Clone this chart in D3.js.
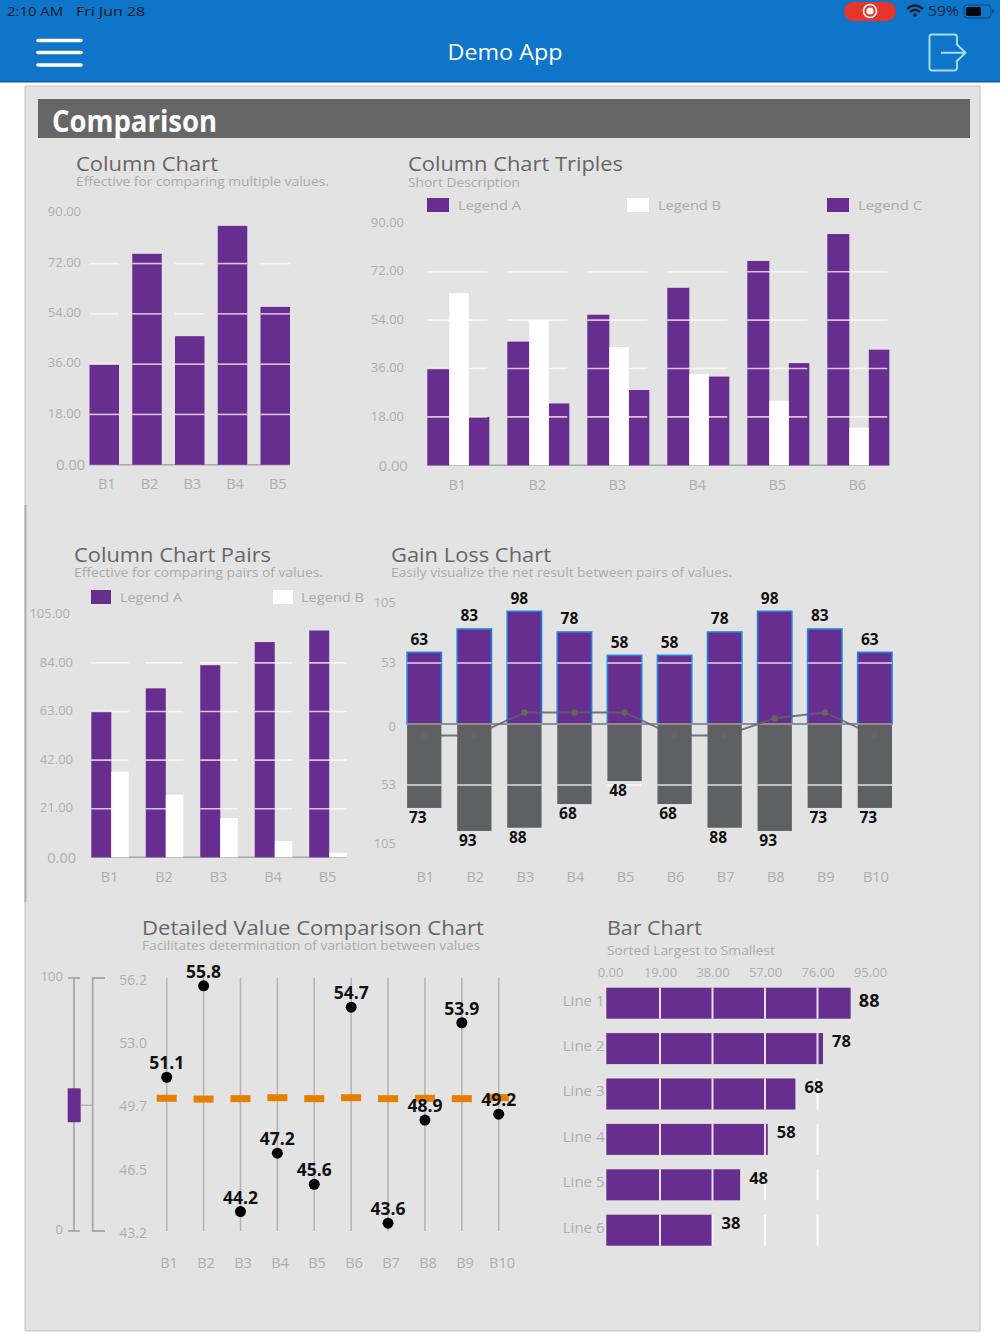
<!DOCTYPE html>
<html>
<head>
<meta charset="utf-8">
<title>Demo App</title>
<script src="https://cdn.jsdelivr.net/npm/d3@7"></script>
<style>
body { margin: 0; background: #fff; }
svg { display: block; }
text { font-family: "Open Sans", sans-serif; }
</style>
</head>
<body>
<div id="screen"></div>
<script>
// chart values
var columnCats = ["B1", "B2", "B3", "B4", "B5"];
var columnValues = [36, 75.5, 46, 85.5, 56.5];
var columnTicks = [0, 18, 36, 54, 72, 90];

var tripleCats = ["B1", "B2", "B3", "B4", "B5", "B6"];
var tripleA = [36, 46, 56, 66, 76, 86];
var tripleB = [64, 54, 44, 34, 24, 14];
var tripleC = [18, 23, 28, 33, 38, 43];
var tripleTicks = [0, 18, 36, 54, 72, 90];

var pairCats = ["B1", "B2", "B3", "B4", "B5"];
var pairA = [63, 73, 83, 93, 98];
var pairB = [37, 27, 17, 7, 2];
var pairTicks = [0, 21, 42, 63, 84, 105];

var gainCats = ["B1", "B2", "B3", "B4", "B5", "B6", "B7", "B8", "B9", "B10"];
// printed labels, and the bar lengths as they read against the axis
var gainLabels = [63, 83, 98, 78, 58, 58, 78, 98, 83, 63];
var lossLabels = [73, 93, 88, 68, 48, 68, 88, 93, 73, 73];
var gainBars = [62.3, 82.6, 98, 80, 59.7, 59.7, 80, 98, 82.6, 62.3];
var lossBars = [73, 93, 90.2, 69.6, 49.6, 69.6, 90.2, 93, 73, 73];
var netValues = [-10, -10, 10, 10, 10, -10, -10, 5, 10, -10];
var gainTicks = [-105, -53, 0, 53, 105];

var detailCats = ["B1", "B2", "B3", "B4", "B5", "B6", "B7", "B8", "B9", "B10"];
var detailValues = [51.1, 55.8, 44.2, 47.2, 45.6, 54.7, 43.6, 48.9, 53.9, 49.2];
var detailTargets = [50.02, 49.98, 50, 50.05, 50, 50.05, 50, 50.02, 50, 50.05];
var detailTicks = [43.2, 46.5, 49.7, 53, 56.2];
var sliderTicks = [0, 100];
var sliderRange = [43, 56.4];

var barCats = ["Line 1", "Line 2", "Line 3", "Line 4", "Line 5", "Line 6"];
var barValues = [88, 78, 68, 58, 48, 38];
var barTicks = [0, 19, 38, 57, 76, 95];

var purple = "#682e8f";
var slate = "#5f6064";
var orange = "#e67e00";
var tickColor = "#aeaeae";
var titleColor = "#666";
var subColor = "#aaa";

var svg = d3.select("#screen").append("svg")
    .attr("width", 1000)
    .attr("height", 1334);

drawFrame();
drawColumnChart();
drawTriples();
drawPairs();
drawGainLoss();
drawDetail();
drawBarChart();

function label(txt, x, y, size, color, weight, anchor, len) {
    var t = svg.append("text")
        .attr("x", x)
        .attr("y", y)
        .attr("dy", "0.35em")
        .attr("font-size", size)
        .attr("fill", color)
        .attr("font-weight", weight || 400)
        .attr("text-anchor", anchor || "start")
        .text(txt);
    if (len) {
        t.attr("textLength", len).attr("lengthAdjust", "spacingAndGlyphs");
    }
    return t;
}

function heading(title, sub, x, y, titleLen, subY, subLen) {
    label(title, x, y, 20, titleColor, 400, "start", titleLen);
    label(sub, x, subY, 12.5, subColor, 400, "start", subLen);
}

function legendItem(txt, color, x, y, w, textX, textLen) {
    svg.append("rect").attr("x", x).attr("y", y).attr("width", w).attr("height", 14).attr("fill", color);
    label(txt, textX, y + 7, 13, subColor, 400, "start", textLen);
}

function styleAxis(g, size) {
    g.select(".domain").remove();
    g.selectAll("text")
        .attr("fill", tickColor)
        .attr("font-size", size || 13)
        .style("font-family", '"Open Sans", sans-serif');
}

function leftAxis(scale, ticks, x, fmt, dy) {
    var g = svg.append("g")
        .attr("transform", `translate(${x}, ${dy || 0})`)
        .call(d3.axisLeft(scale).tickValues(ticks).tickSize(0).tickPadding(0).tickFormat(fmt));
    styleAxis(g);
    return g;
}

function bottomAxis(scale, y, shift) {
    var g = svg.append("g")
        .attr("transform", `translate(${shift}, ${y})`)
        .call(d3.axisBottom(scale).tickSize(0).tickPadding(0));
    styleAxis(g, 14.5);
    return g;
}

// gridlines only run across each category band
function bandGrid(xScale, yScale, ticks, width, opacity) {
    var g = svg.append("g");
    ticks.forEach(function(t) {
        xScale.domain().forEach(function(c) {
            g.append("line")
                .attr("x1", xScale(c))
                .attr("x2", xScale(c) + width)
                .attr("y1", yScale(t))
                .attr("y2", yScale(t))
                .attr("stroke", "#fff")
                .attr("stroke-width", 1.6)
                .attr("opacity", opacity || 0.72);
        });
    });
}

function baseline(x1, x2, y) {
    svg.append("line")
        .attr("x1", x1).attr("x2", x2).attr("y1", y).attr("y2", y)
        .attr("stroke", "#a8a8a8").attr("stroke-width", 1.6);
}

function drawFrame() {
    // header
    svg.append("rect").attr("width", 1000).attr("height", 82).attr("fill", "#0f75c9");
    svg.append("rect").attr("y", 81).attr("width", 1000).attr("height", 1.5).attr("fill", "#0a5ea8");

    label("2:10 AM", 7, 11, 13.5, "#0d1a26", 400, "start", 56);
    label("Fri Jun 28", 76, 11, 13.5, "#0d1a26", 400, "start", 69);

    svg.append("rect").attr("x", 844).attr("y", 2).attr("width", 52).attr("height", 19).attr("rx", 9.5).attr("fill", "#e8352b");
    svg.append("circle").attr("cx", 870).attr("cy", 11).attr("r", 6.5).attr("fill", "none").attr("stroke", "#fff").attr("stroke-width", 1.6);
    svg.append("circle").attr("cx", 870).attr("cy", 11).attr("r", 3.6).attr("fill", "#fff");

    // wifi
    svg.append("path").attr("d", "M907,9 Q915,2 923,9").attr("fill", "none").attr("stroke", "#0b1f33").attr("stroke-width", 2.4);
    svg.append("path").attr("d", "M910,12 Q915,7.5 920,12").attr("fill", "none").attr("stroke", "#0b1f33").attr("stroke-width", 2.4);
    svg.append("circle").attr("cx", 915).attr("cy", 15).attr("r", 1.8).attr("fill", "#0b1f33");
    label("59%", 928, 11, 14, "#0e2a46", 400, "start", 31);

    // battery
    svg.append("rect").attr("x", 964).attr("y", 5).attr("width", 27).attr("height", 13).attr("rx", 3.5).attr("fill", "none").attr("stroke", "#0b4a82").attr("stroke-width", 1);
    svg.append("rect").attr("x", 966).attr("y", 7).attr("width", 15).attr("height", 9).attr("rx", 1.5).attr("fill", "#050a10");
    svg.append("rect").attr("x", 992).attr("y", 9.5).attr("width", 2).attr("height", 4).attr("fill", "#0b4a82");

    // menu icon
    [40.5, 52.5, 65].forEach(function(y) {
        svg.append("line")
            .attr("x1", 38).attr("x2", 81).attr("y1", y).attr("y2", y)
            .attr("stroke", "#fff").attr("stroke-width", 3.6).attr("stroke-linecap", "round");
    });
    label("Demo App", 505, 52.5, 22, "#fff", 400, "middle", 115);

    // logout icon
    svg.append("path")
        .attr("d", "M957,44 V37 Q957,34.5 954,34.5 H932 Q929.5,34.5 929.5,37 V68 Q929.5,70.5 932,70.5 H954 Q957,70.5 957,68 V62 M941,52.7 H965 M956,43.5 L965.5,52.7 L956,62")
        .attr("fill", "none").attr("stroke", "#a9dcfb").attr("stroke-width", 1.9);

    // grey panel
    svg.append("rect").attr("x", 25).attr("y", 86).attr("width", 955).attr("height", 1245)
        .attr("fill", "#e3e3e3").attr("stroke", "#c2c2c2").attr("stroke-width", 1);
    svg.append("rect").attr("x", 24.5).attr("y", 505).attr("width", 2).attr("height", 397).attr("fill", "#b0b0b0");

    svg.append("rect").attr("x", 38).attr("y", 99).attr("width", 932).attr("height", 39).attr("fill", "#666");
    label("Comparison", 52, 121, 30, "#fff", 700, "start", 165);
}

function drawColumnChart() {
    heading("Column Chart", "Effective for comparing multiple values.", 76, 164, 142, 181.7, 253);

    var x = d3.scaleBand().domain(columnCats).range([89.5, 290]).paddingInner(0.31);
    var y = d3.scaleLinear().domain([0, 90]).range([464.7, 213.3]);

    leftAxis(y, columnTicks, 81, d3.format(".2f"), -1.5)
        .selectAll("text").filter(d => d === 0).attr("x", 4).attr("dy", "0.4em").attr("font-size", 14.5);

    baseline(89.5, 290, y(0));

    svg.append("g").selectAll("rect")
        .data(columnValues)
        .enter()
        .append("rect")
        .attr("x", (d, i) => x(columnCats[i]))
        .attr("y", d => y(d))
        .attr("width", x.bandwidth())
        .attr("height", d => y(0) - y(d))
        .attr("fill", purple);

    bandGrid(x, y, columnTicks.slice(1, 5), x.bandwidth());
    bottomAxis(x, 479, 2.5);
}

function drawGroups(x, y, seriesList, colors, offsets, widths) {
    seriesList.forEach(function(values, s) {
        svg.append("g").selectAll("rect")
            .data(values)
            .enter()
            .append("rect")
            .attr("x", (d, i) => x(x.domain()[i]) + offsets[s])
            .attr("y", d => y(d))
            .attr("width", widths[s])
            .attr("height", d => y(0) - y(d))
            .attr("fill", colors[s]);
    });
}

function drawTriples() {
    heading("Column Chart Triples", "Short Description", 408, 164, 215, 182.7, 112);
    legendItem("Legend A", purple, 427, 198, 22, 458, 63);
    legendItem("Legend B", "#fff", 627, 198, 22, 658, 63);
    legendItem("Legend C", purple, 827, 198, 22, 858, 64);

    var x = d3.scaleBand().domain(tripleCats).range([427.3, 889.3]).paddingInner(0.225);
    var y = d3.scaleLinear().domain([0, 90]).range([465.3, 223.3]);

    leftAxis(y, tripleTicks, 404, d3.format(".2f"), -1)
        .selectAll("text").filter(d => d === 0).attr("x", 3.5).attr("dy", "0.4em").attr("font-size", 14.5);

    baseline(427.3, 889.3, y(0));
    drawGroups(x, y, [tripleA, tripleC, tripleB], [purple, purple, "#fff"], [0, 41.5, 22], [22, 20.5, 19.5]);
    bandGrid(x, y, tripleTicks.slice(1, 5), x.bandwidth() - 2);
    bottomAxis(x, 480, -1);
}

function drawPairs() {
    heading("Column Chart Pairs", "Effective for comparing pairs of values.", 74, 555, 197, 572.7, 249);
    legendItem("Legend A", purple, 91, 590, 20, 120, 62);
    legendItem("Legend B", "#fff", 273, 590, 20, 301, 63);

    var x = d3.scaleBand().domain(pairCats).range([91.3, 346.7]).paddingInner(0.312);
    var y = d3.scaleLinear().domain([0, 105]).range([857.3, 614.3]);

    var axis = leftAxis(y, pairTicks, 73, d3.format(".2f"), -1);
    axis.selectAll("text").filter(d => d === 0).attr("x", 3).attr("y", 2).attr("font-size", 14.5);
    axis.selectAll("text").filter(d => d === 105).attr("x", -3);

    baseline(91.3, 346.7, y(0));
    drawGroups(x, y, [pairA, pairB], [purple, "#fff"], [0, 20], [20, 17.5]);
    bandGrid(x, y, pairTicks.slice(1, 5), x.bandwidth());
    bottomAxis(x, 872, -0.5);
}

function drawGainLoss() {
    heading("Gain Loss Chart", "Easily visualize the net result between pairs of values.", 391, 555, 160, 572.7, 341);

    var x = d3.scaleBand().domain(gainCats).range([407.1, 892]).paddingInner(0.315);
    var y = d3.scaleLinear().domain([-105, 105]).range([844.75, 603.25]);

    leftAxis(y, gainTicks, 396, d => Math.abs(d), -1)
        .selectAll("text").filter(d => d === 0).attr("y", 3);

    // loss bars, then gain bars
    svg.append("g").selectAll("rect")
        .data(lossBars)
        .enter()
        .append("rect")
        .attr("x", (d, i) => x(gainCats[i]))
        .attr("y", y(0))
        .attr("width", x.bandwidth())
        .attr("height", d => y(-d) - y(0))
        .attr("fill", slate);

    svg.append("g").selectAll("rect")
        .data(gainBars)
        .enter()
        .append("rect")
        .attr("x", (d, i) => x(gainCats[i]))
        .attr("y", d => y(d))
        .attr("width", x.bandwidth())
        .attr("height", d => y(0) - y(d))
        .attr("fill", purple)
        .attr("stroke", "#1b85dc")
        .attr("stroke-width", 1.6);

    bandGrid(x, y, [53, -53], x.bandwidth(), 0.8);

    // zero line and net line
    svg.append("line")
        .attr("x1", 407).attr("x2", 892).attr("y1", y(0)).attr("y2", y(0))
        .attr("stroke", "#8e8e8e").attr("stroke-width", 1.8);

    var cx = (d, i) => x(gainCats[i]) + x.bandwidth() / 2;
    var line = d3.line().x(cx).y(d => y(d));

    svg.append("path")
        .attr("d", line(netValues))
        .attr("fill", "none")
        .attr("stroke", slate)
        .attr("stroke-opacity", 0.85)
        .attr("stroke-width", 1.8);

    svg.append("g").selectAll("circle")
        .data(netValues)
        .enter()
        .append("circle")
        .attr("cx", cx)
        .attr("cy", d => y(d))
        .attr("r", 3.2)
        .attr("fill", "#64665e");

    gainLabels.forEach(function(v, i) {
        label(v, cx(v, i) - 5, y(gainBars[i]) - 13, 15.5, "#111", 700, "middle");
    });
    lossLabels.forEach(function(v, i) {
        label(v, cx(v, i) - 6.5, y(-lossBars[i]) + 9.5, 15.5, "#111", 700, "middle");
    });

    bottomAxis(x, 872, 1);
}

function drawDetail() {
    heading("Detailed Value Comparison Chart", "Facilitates determination of variation between values", 142, 928, 342, 945.7, 338);

    var x = d3.scalePoint().domain(detailCats).range([166.7, 498.7]);
    var y = d3.scaleLinear().domain([43.2, 56.2]).range([1231, 978]);
    var slider = d3.scaleLinear().domain([0, 100]).range([1231, 978]);

    // range slider on the left
    leftAxis(slider, sliderTicks, 63, d3.format("d"), -1.5);
    var axisColor = "#a9a9ad";
    svg.append("line").attr("x1", 74).attr("x2", 74).attr("y1", slider(100)).attr("y2", slider(0))
        .attr("stroke", axisColor).attr("stroke-width", 1.8);
    sliderTicks.forEach(function(t) {
        svg.append("line").attr("x1", 68).attr("x2", 80).attr("y1", slider(t)).attr("y2", slider(t))
            .attr("stroke", axisColor).attr("stroke-width", 1.8);
    });
    svg.append("rect")
        .attr("x", 67.7)
        .attr("y", slider(sliderRange[1]))
        .attr("width", 13)
        .attr("height", slider(sliderRange[0]) - slider(sliderRange[1]))
        .attr("fill", purple);
    svg.append("line").attr("x1", 81).attr("x2", 92.7)
        .attr("y1", slider(d3.mean(sliderRange))).attr("y2", slider(d3.mean(sliderRange)))
        .attr("stroke", axisColor).attr("stroke-width", 1.2);
    svg.append("path")
        .attr("d", d3.line()([[105, y(56.2)], [92.7, y(56.2)], [92.7, y(43.2)], [105, y(43.2)]]))
        .attr("fill", "none").attr("stroke", axisColor).attr("stroke-width", 1.8);

    // the printed ticks are evenly spaced
    leftAxis(d3.scalePoint().domain(detailTicks).range([1231, 978]), detailTicks, 147, d3.format(".1f"), 2)
        .selectAll("text").attr("font-size", 14);

    var g = svg.append("g");
    g.selectAll("line")
        .data(detailCats)
        .enter()
        .append("line")
        .attr("x1", d => x(d))
        .attr("x2", d => x(d))
        .attr("y1", y(56.2))
        .attr("y2", y(43.2))
        .attr("stroke", "#b4b4b6")
        .attr("stroke-width", 1.6);

    g.selectAll("rect")
        .data(detailTargets)
        .enter()
        .append("rect")
        .attr("x", (d, i) => x(detailCats[i]) - 10)
        .attr("y", d => y(d) - 3.5)
        .attr("width", 20)
        .attr("height", 7)
        .attr("fill", orange);

    g.selectAll("circle")
        .data(detailValues)
        .enter()
        .append("circle")
        .attr("cx", (d, i) => x(detailCats[i]))
        .attr("cy", d => y(d))
        .attr("r", 5.5)
        .attr("fill", "#000");

    detailValues.forEach(function(v, i) {
        label(d3.format(".1f")(v), x(detailCats[i]), y(v) - 14, 17.5, "#111", 700, "middle");
    });

    // labels sit on a slightly wider step than the lines
    var labelBand = d3.scaleBand().domain(detailCats).range([150.5, 520.5]);
    bottomAxis(labelBand, 1258, 0);
}

function drawBarChart() {
    heading("Bar Chart", "Sorted Largest to Smallest", 607, 928, 95, 951, 168);

    var x = d3.scaleLinear().domain([0, 95]).range([607.5, 870]);
    var y = d3.scaleBand().domain(barCats).range([987.7, 1245.7]).paddingInner(0.317);

    var top = svg.append("g")
        .attr("transform", "translate(0, 977)")
        .call(d3.axisTop(x).tickValues(barTicks).tickSize(0).tickPadding(0).tickFormat(d3.format(".2f")));
    styleAxis(top);
    top.selectAll("text").filter(d => d === 0).attr("x", 2.5);

    var left = svg.append("g")
        .attr("transform", "translate(604.5, -2.5)")
        .call(d3.axisLeft(y).tickSize(0).tickPadding(0));
    styleAxis(left, 15);

    svg.append("g").selectAll("rect")
        .data(barValues)
        .enter()
        .append("rect")
        .attr("x", x(0) - 1.2)
        .attr("y", (d, i) => y(barCats[i]))
        .attr("width", d => x(d) - x(0) + 1.2)
        .attr("height", y.bandwidth())
        .attr("fill", purple);

    // vertical gridlines, cut per row
    barTicks.slice(1, 5).forEach(function(t) {
        barCats.forEach(function(c) {
            svg.append("line")
                .attr("x1", x(t)).attr("x2", x(t))
                .attr("y1", y(c)).attr("y2", y(c) + y.bandwidth())
                .attr("stroke", "#fff")
                .attr("stroke-width", 2)
                .attr("opacity", 0.85);
        });
    });

    barValues.forEach(function(v, i) {
        var mid = y(barCats[i]) + y.bandwidth() / 2;
        label(v, x(v) + 18.5, mid + (i === 0 ? -3 : -7), i === 0 ? 18 : 16.5, "#111", 700, "middle");
    });
}
</script>
</body>
</html>
